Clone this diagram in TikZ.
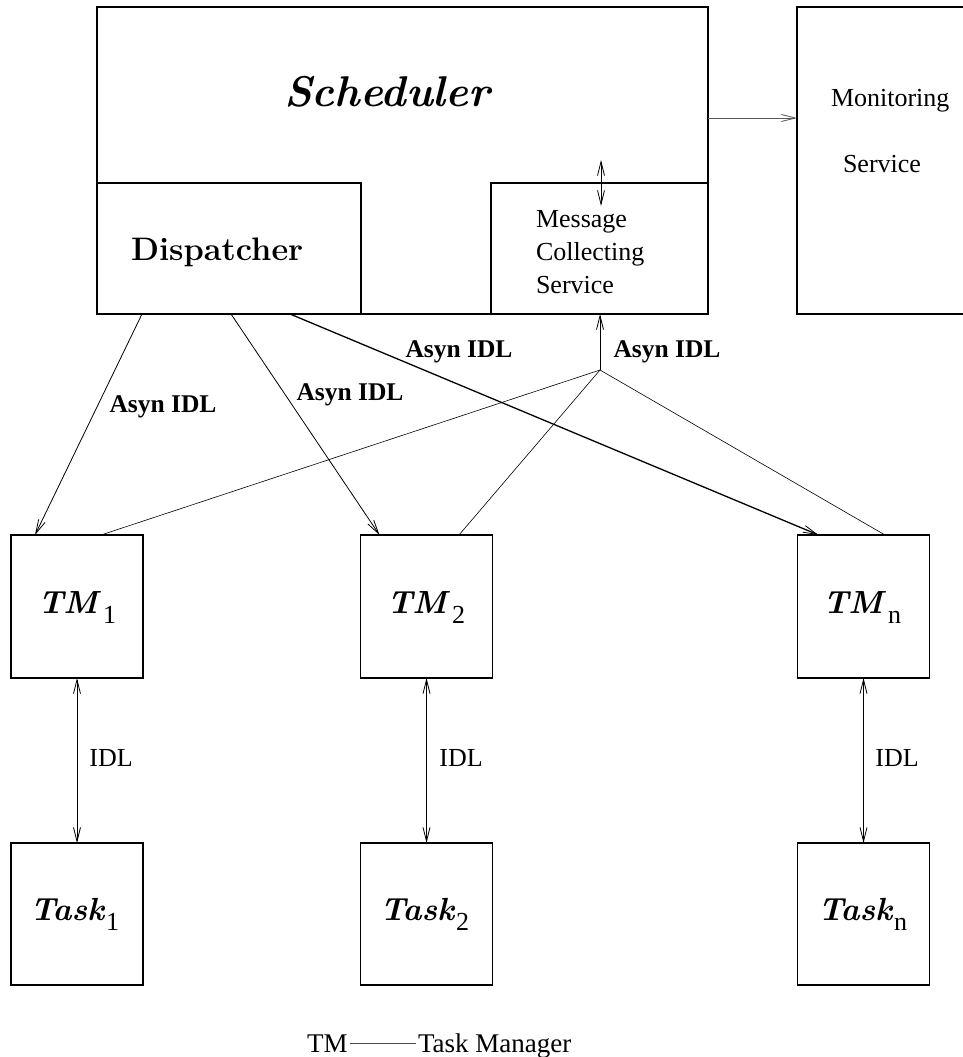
\documentclass[tikz,border=0pt]{standalone}
\usepackage{fontspec}
\usetikzlibrary{arrows.meta}
\newfontfamily\tms{Liberation Serif}
\begin{document}
\begin{tikzpicture}[x=1pt,y=-1pt,
  box/.style={draw,line width=1.6pt,inner sep=0pt,outer sep=0pt},
  txt/.style={inner sep=0pt,outer sep=0pt,anchor=base west},
  reg/.style={font=\tms\fontsize{26}{33}\selectfont},
  bld/.style={font=\tms\bfseries\fontsize{25.5}{30}\selectfont},
  arr/.style={line width=0.8pt,-{Straight Barb[length=14pt,width=7pt,line width=0.8pt]}},
  darr/.style={line width=0.8pt,{Straight Barb[length=14pt,width=7pt,line width=0.8pt]}-{Straight Barb[length=14pt,width=7pt,line width=0.8pt]}},
  thinl/.style={line width=0.6pt},
  tmlab/.style={font=\bfseries\itshape\addfontfeatures{FakeBold=1.2}\fontsize{32}{34}\selectfont},
]
\useasboundingbox (0,0) rectangle (962,1057);
% boxes
\node[box,minimum width=611pt,minimum height=307pt] (sched) at (402.5,160.5) {};
\node[box,minimum width=264pt,minimum height=131pt] (disp) at (229,248.5) {};
\node[box,minimum width=217pt,minimum height=131pt] (msg) at (599.5,248.5) {};
\node[box,minimum width=170pt,minimum height=307pt] (mon) at (882,160.5) {};
\foreach \n/\x in {1/77,2/426.5,n/863.5}{
  \node[box,minimum width=132pt,minimum height=143pt] (tm\n) at (\x,606.5) {};
  \node[box,minimum width=132pt,minimum height=142pt] (task\n) at (\x,914) {};
}
% texts
\node[txt,font=\bfseries\itshape\addfontfeatures{FakeBold=1.2}\fontsize{43}{45}\selectfont] (schedtxt) at (284,106) {Scheduler};
\node[txt,font=\bfseries\addfontfeatures{FakeBold=1}\fontsize{32.5}{35}\selectfont] (disptxt) at (131,260) {Dispatcher};
\node[txt,reg] (msg1) at (536,227) {Message};
\node[txt,reg] (msg2) at (536,260) {Collecting};
\node[txt,reg] (msg3) at (536,293) {Service};
\node[txt,reg] (mon1) at (831,106) {Monitoring};
\node[txt,reg] (mon2) at (843,172) {Service};
% TM labels
\node[txt,tmlab] (tm1t) at (38,613) {TM};
\node[txt,reg] (tm1s) at (103,623) {1};
\node[txt,tmlab] (tm2t) at (387,613) {TM};
\node[txt,reg] (tm2s) at (452,623) {2};
\node[txt,tmlab] (tmnt) at (823,613) {TM};
\node[txt,reg] (tmns) at (888,623) {n};
% Task labels
\node[txt,tmlab] (task1t) at (30,920) {Task};
\node[txt,reg] (task1s) at (106,930) {1};
\node[txt,tmlab] (task2t) at (380,920) {Task};
\node[txt,reg] (task2s) at (456,930) {2};
\node[txt,tmlab] (tasknt) at (818,920) {Task};
\node[txt,reg] (taskns) at (894,930) {n};
% Asyn labels
\node[bld,inner sep=0pt] (a1) at (163,407) {Asyn IDL};
\node[bld,inner sep=0pt] (a2) at (350,395) {Asyn IDL};
\node[bld,inner sep=0pt] (a3) at (459,352) {Asyn IDL};
\node[bld,inner sep=0pt] (a4) at (667,352) {Asyn IDL};
% IDL labels
\node[reg,inner sep=0pt] (i1) at (111,758) {IDL};
\node[reg,inner sep=0pt] (i2) at (461,758) {IDL};
\node[reg,inner sep=0pt] (in) at (897,758) {IDL};
% connectors
\coordinate (hub) at (600,370);
\draw[arr] (hub) -- (hub |- msg.south);
\draw[thinl] (hub) -- ([xshift=24pt]tm1.north);
\draw[thinl] (hub) -- ([xshift=32.5pt]tm2.north);
\draw[thinl] (hub) -- ([xshift=21.5pt]tmn.north);
\draw[arr] ([xshift=45pt]disp.south west) -- ([xshift=24pt]tm1.north west);
\draw[arr] ([xshift=2pt]disp.south) -- ([xshift=19pt]tm2.north west);
\draw[arr,line width=1.3pt] ([xshift=193pt]disp.south west) -- ([xshift=21pt]tmn.north west);
\coordinate (da) at (601,160);
\coordinate (db) at (601,206);
\draw[darr] (da) -- (db);
\coordinate (my) at (0,118);
\draw[arr,draw=black!65] (sched.east |- my) -- (mon.west |- my);
\draw[darr] (tm1.south) -- (task1.north);
\draw[darr] (tm2.south) -- (task2.north);
\draw[darr] (tmn.south) -- (taskn.north);
% legend
\node[txt,inner sep=2pt,font=\tms\fontsize{27}{30}\selectfont] (legtm) at (305,1052) {TM};
\node[txt,inner sep=2pt,font=\tms\fontsize{27}{30}\selectfont] (legname) at (416,1052) {Task Manager};
\draw[thinl,black!70] (legtm.east) -- (legtm.east -| legname.west);
\end{tikzpicture}
\end{document}
